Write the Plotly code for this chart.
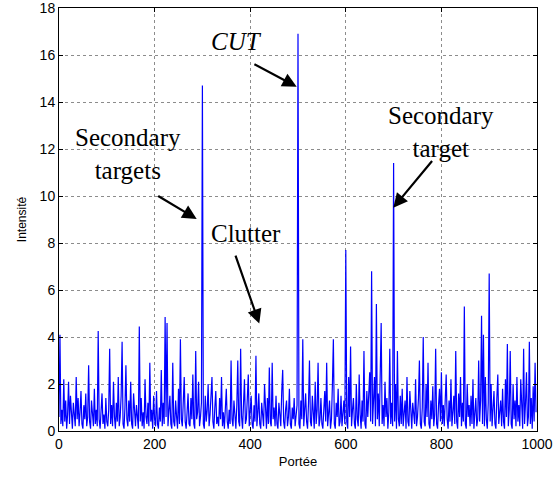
import plotly.graph_objects as go

# Range cells sampled every 2 units, received intensity per cell (clutter + targets)
intensity = [
    0.6, 4.1, 0.3, 0.9, 0.2, 2.2, 0.4, 1.3, 0.1, 0.7, 2.1, 0.3, 1.5, 0.6, 0.1, 1.2, 0.4, 0.2, 2.3, 0.5,
    1.4, 0.2, 0.8, 1.7, 0.3, 0.1, 1.1, 0.5, 1.6, 0.2, 0.6, 2.8, 0.4, 0.1, 1.3, 0.7, 0.2, 1.8, 0.3, 0.9,
    0.2, 4.25, 0.5, 0.1, 1.0, 1.6, 0.3, 0.7, 0.1, 1.4, 0.4, 0.2, 0.9, 3.5, 0.3, 1.1, 0.2, 2.1, 0.6, 0.1,
    1.2, 0.4, 2.3, 0.2, 0.6, 1.5, 3.8, 0.3, 0.1, 1.0, 2.8, 0.5, 0.2, 1.3, 0.4, 2.1, 0.3, 0.1, 1.6, 0.7,
    0.2, 1.1, 0.5, 0.1, 4.45, 0.4, 1.4, 0.2, 0.8, 0.1, 2.2, 0.6, 0.3, 1.2, 0.2, 2.9, 0.4, 0.9, 0.1, 1.5,
    0.5, 0.2, 1.7, 0.3, 0.1, 1.0, 0.4, 2.6, 0.2, 1.2, 0.3, 4.85, 0.6, 4.6, 0.2, 0.9, 1.5, 0.3, 0.1, 2.9,
    0.4, 0.2, 1.3, 0.6, 0.1, 1.8, 0.3, 3.9, 0.5, 0.2, 1.1, 2.3, 0.4, 0.1, 0.8, 1.6, 0.3, 0.2, 1.4, 0.5,
    2.4, 0.3, 0.1, 3.4, 0.5, 0.8, 2.1, 0.2, 0.6, 1.2, 14.7, 0.3, 0.1, 1.5, 0.4, 0.9, 2.0, 0.2, 0.7, 1.3,
    2.3, 0.4, 0.1, 1.0, 1.7, 0.3, 0.6, 0.2, 1.4, 0.5, 2.3, 0.2, 0.8, 0.1, 1.2, 1.8, 0.4, 0.1, 0.9, 0.3,
    3.0, 0.5, 0.2, 1.3, 0.7, 0.1, 1.1, 3.0, 0.4, 0.2, 3.5, 0.6, 0.1, 0.9, 2.2, 0.3, 0.5, 1.4, 2.4, 0.2,
    0.7, 1.5, 0.3, 0.1, 1.1, 0.4, 3.2, 0.2, 0.8, 1.6, 0.3, 0.1, 1.2, 0.5, 0.2, 2.0, 0.6, 0.1, 1.4, 0.3,
    2.7, 0.4, 0.2, 2.9, 0.5, 1.0, 0.2, 1.5, 0.3, 0.1, 1.2, 0.6, 0.2, 1.7, 2.6, 0.4, 0.1, 0.9, 1.3, 0.2,
    0.6, 1.8, 0.3, 0.1, 1.0, 0.5, 1.4, 0.2, 0.7, 1.1, 16.9, 0.3, 0.1, 1.3, 0.5, 3.9, 0.2, 0.8, 1.6, 0.4,
    0.1, 1.2, 3.0, 0.4, 0.2, 1.5, 0.6, 0.1, 2.1, 0.3, 0.9, 2.9, 0.2, 0.5, 1.4, 0.3, 0.1, 1.1, 1.7, 0.4,
    2.9, 0.2, 0.7, 1.3, 0.1, 0.5, 2.0, 3.9, 0.3, 0.1, 1.2, 0.6, 1.8, 0.2, 0.4, 1.5, 0.2, 0.9, 1.3, 0.3,
    7.7, 0.4, 0.1, 2.3, 0.6, 3.6, 0.2, 0.9, 1.4, 0.3, 0.1, 2.0, 0.5, 0.2, 2.4, 0.7, 0.1, 1.3, 0.4, 3.4,
    0.3, 0.1, 1.7, 0.6, 2.1, 2.5, 0.4, 6.8, 0.3, 1.2, 2.3, 0.2, 5.4, 0.5, 1.6, 0.2, 2.0, 4.6, 0.3, 1.1,
    0.2, 2.1, 0.6, 1.4, 0.1, 0.8, 3.5, 0.3, 1.2, 0.2, 11.4, 0.4, 2.0, 0.1, 3.4, 0.5, 0.2, 1.5, 0.3, 1.8,
    0.2, 0.9, 1.3, 0.1, 2.3, 0.4, 0.2, 1.7, 0.5, 0.1, 1.2, 0.8, 0.3, 2.2, 0.2, 0.6, 1.4, 3.0, 0.3, 0.1,
    1.0, 4.0, 0.4, 0.2, 2.0, 0.6, 2.9, 0.3, 0.1, 1.3, 0.5, 1.9, 0.2, 0.7, 3.5, 0.3, 0.1, 1.1, 1.8, 0.4,
    2.5, 0.3, 1.1, 0.2, 1.9, 2.4, 0.5, 0.1, 1.3, 0.4, 2.2, 0.2, 0.8, 1.5, 0.3, 3.4, 0.4, 0.1, 1.6, 0.6,
    2.3, 0.2, 1.2, 0.4, 5.3, 0.3, 0.1, 2.0, 0.6, 1.1, 0.2, 1.5, 0.3, 2.2, 0.1, 0.7, 1.4, 0.2, 0.5, 3.0,
    0.4, 1.3, 4.9, 0.3, 4.1, 0.2, 2.3, 0.5, 0.1, 1.2, 6.7, 0.4, 2.0, 0.2, 0.9, 1.7, 0.3, 0.1, 1.4, 2.4,
    0.3, 0.8, 1.3, 0.2, 1.8, 0.4, 0.1, 2.2, 0.6, 3.7, 0.2, 0.9, 3.4, 0.3, 0.1, 2.0, 0.5, 1.3, 0.2, 2.3,
    0.4, 1.1, 0.2, 2.2, 0.5, 0.1, 3.5, 0.3, 1.2, 2.5, 0.2, 0.6, 3.8, 0.3, 1.4, 0.1, 1.9, 0.4, 2.9, 0.8,
]
range_cells = [2 * i for i in range(len(intensity))]

x_ticks = [0, 200, 400, 600, 800, 1000]
y_ticks = [0, 2, 4, 6, 8, 10, 12, 14, 16, 18]

# (text, text_x, text_y, tail_x, tail_y, head_x, head_y, italic)
labels = [
    ("CUT", 372, 16.56, 405.6, 15.64, 497.3, 14.65, True),
    ("Secondary<br>targets", 144, 11.80, 204.4, 10.04, 288.1, 9.02, False),
    ("Clutter", 391, 8.39, 368.2, 7.53, 419.0, 4.57, False),
    ("Secondary<br>target", 800, 12.72, 783.1, 11.55, 699.4, 9.50, False),
]

fig = go.Figure()
fig.add_trace(go.Scatter(
    x=range_cells, y=intensity, mode="lines",
    line=dict(color="#0000ff", width=1.2),
    hoverinfo="skip", showlegend=False,
))

annotations = []
for text, tx, ty, ax0, ay0, hx, hy, italic in labels:
    annotations.append(dict(
        x=tx, y=ty, xref="x", yref="y",
        text=f"<i>{text}</i>" if italic else text,
        showarrow=False,
        font=dict(family="Liberation Serif, Times New Roman, serif", size=25, color="black"),
        align="center",
    ))
    annotations.append(dict(
        x=hx, y=hy, ax=ax0, ay=ay0, xref="x", yref="y", axref="x", ayref="y",
        text="", showarrow=True, arrowhead=2, arrowsize=1.3, arrowwidth=2.2,
        arrowcolor="black", standoff=0,
    ))

axis_common = dict(
    showline=True, linecolor="black", linewidth=1, mirror="ticks",
    ticks="inside", ticklen=4, tickcolor="black",
    showgrid=True, gridcolor="#8c8c8c", griddash="dot", gridwidth=1,
    zeroline=False, automargin=False, ticklabeloverflow="allow",
    tickfont=dict(family="Liberation Sans, Arial, sans-serif", size=14, color="black"),
)

fig.update_layout(
    width=553, height=481,
    margin=dict(l=59, r=16, t=8, b=50),
    paper_bgcolor="white", plot_bgcolor="white",
    annotations=annotations,
    xaxis=dict(
        range=[0, 1000], tickvals=x_ticks, ticktext=[str(v) for v in x_ticks],
        title=dict(text="Portée", standoff=6,
                   font=dict(family="Liberation Sans, Arial, sans-serif", size=13, color="black")),
        **axis_common,
    ),
    yaxis=dict(
        range=[0, 18], tickvals=y_ticks, ticktext=[str(v) for v in y_ticks],
        title=dict(text="Intensité", standoff=10,
                   font=dict(family="Liberation Sans, Arial, sans-serif", size=12, color="black")),
        **axis_common,
    ),
)

fig.write_html("out.html")
